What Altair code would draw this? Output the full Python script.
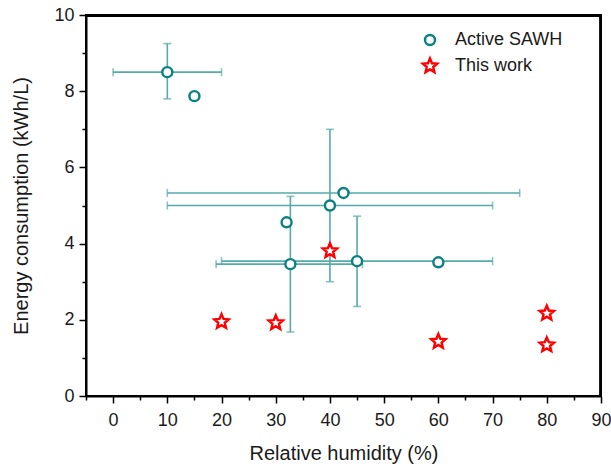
import altair as alt
import pandas as pd

# Active SAWH systems: relative humidity (%) vs energy consumption (kWh/L)
sawh_rh = [10, 15, 42.5, 40, 32, 32.7, 45, 60]
sawh_energy = [8.5, 7.87, 5.33, 5.0, 4.56, 3.46, 3.54, 3.51]
sawh_rh_lo = [0, None, 10, 10, None, 19, 20, None]
sawh_rh_hi = [20, None, 75, 70, None, 46, 70, None]
sawh_energy_lo = [7.8, None, None, 3.0, None, 1.68, 2.35, None]
sawh_energy_hi = [9.25, None, None, 7.0, None, 5.24, 4.72, None]

# This work
work_rh = [20, 30, 40, 60, 80, 80]
work_energy = [1.95, 1.92, 3.81, 1.43, 2.17, 1.34]

series_names = ["Active SAWH", "This work"]
series_colors = ["#0a8080", "#ff0000"]
bar_color = "#55aaaa"

# axis ranges and tick positions
x_range = [-5, 90]
y_range = [0, 10]
x_major = list(range(0, 91, 10))
x_minor = list(range(-5, 90, 10))
y_major = list(range(0, 11, 2))
y_minor = list(range(1, 10, 2))

STAR = ("M0,-1 L0.265,-0.364 L0.951,-0.309 L0.428,0.139 L0.588,0.809 "
        "L0,0.45 L-0.588,0.809 L-0.428,0.139 L-0.951,-0.309 L-0.265,-0.364 Z")

sawh = pd.DataFrame({
    "rh": sawh_rh, "energy": sawh_energy,
    "rh_lo": sawh_rh_lo, "rh_hi": sawh_rh_hi,
    "e_lo": sawh_energy_lo, "e_hi": sawh_energy_hi,
})
points = pd.concat([
    pd.DataFrame({"rh": sawh_rh, "energy": sawh_energy, "series": series_names[0]}),
    pd.DataFrame({"rh": work_rh, "energy": work_energy, "series": series_names[1]}),
], ignore_index=True)

W, H = 515, 381
x_scale = alt.Scale(domain=x_range, nice=False, zero=False)
y_scale = alt.Scale(domain=y_range, nice=False, zero=False)

font = "Liberation Sans"
ink = "#1a1a1a"

common = dict(
    labelFont=font, titleFont=font, titleFontWeight="normal",
    labelColor=ink, titleColor=ink,
    domainColor="black", domainWidth=2, tickColor="black", tickWidth=1.5,
    grid=False, labelFlush=False, labelOverlap=False,
)
x_axis = alt.Axis(
    title="Relative humidity (%)", orient="bottom", values=x_major, tickSize=7,
    labelFontSize=18, titleFontSize=20, labelPadding=8, titlePadding=14, **common,
)
y_axis = alt.Axis(
    title="Energy consumption (kWh/L)", orient="left", values=y_major, tickSize=7,
    labelFontSize=18, titleFontSize=20, labelPadding=5, titlePadding=22, **common,
)

base = alt.Chart(sawh)

# top and right border drawn as thin filled bands along the plot edges
border = pd.DataFrame({
    "x0": [x_range[0], x_range[1] - 0.35],
    "x1": [x_range[1], x_range[1]],
    "y0": [y_range[1] - 0.05, y_range[0]],
    "y1": [y_range[1], y_range[1]],
})
frame = alt.Chart(border).mark_rect(color="black", opacity=1).encode(
    x=alt.X("x0:Q", scale=x_scale, axis=x_axis), x2="x1:Q",
    y=alt.Y("y0:Q", scale=y_scale, axis=y_axis), y2="y1:Q",
)

# horizontal error bars with end caps
h_bars = base.transform_filter("isValid(datum.rh_lo)").mark_rule(
    color=bar_color, strokeWidth=1.6
).encode(
    x=alt.X("rh_lo:Q", scale=x_scale, axis=x_axis),
    x2="rh_hi:Q",
    y=alt.Y("energy:Q", scale=y_scale, axis=y_axis),
)
h_caps = base.transform_filter("isValid(datum.rh_lo)").transform_fold(
    ["rh_lo", "rh_hi"], as_=["end", "value"]
).mark_tick(orient="vertical", color=bar_color, size=8, thickness=1.6).encode(
    x=alt.X("value:Q", scale=x_scale, axis=x_axis),
    y=alt.Y("energy:Q", scale=y_scale, axis=y_axis),
)

# vertical error bars with end caps
v_bars = base.transform_filter("isValid(datum.e_lo)").mark_rule(
    color=bar_color, strokeWidth=1.6
).encode(
    x=alt.X("rh:Q", scale=x_scale, axis=x_axis),
    y=alt.Y("e_lo:Q", scale=y_scale, axis=y_axis),
    y2="e_hi:Q",
)
v_caps = base.transform_filter("isValid(datum.e_lo)").transform_fold(
    ["e_lo", "e_hi"], as_=["end", "value"]
).mark_tick(orient="horizontal", color=bar_color, size=8, thickness=1.6).encode(
    x=alt.X("rh:Q", scale=x_scale, axis=x_axis),
    y=alt.Y("value:Q", scale=y_scale, axis=y_axis),
)

legend = alt.Legend(
    title=None, orient="none", legendX=335, legendY=16,
    labelFontSize=18, labelFont=font, labelColor=ink,
    symbolStrokeWidth=2.4, symbolFillColor="white", rowPadding=3,
    labelOffset=16, padding=0,
)

marks = alt.Chart(points).mark_point(
    filled=False, fill="white", fillOpacity=1, strokeWidth=2.4, opacity=1
).encode(
    x=alt.X("rh:Q", scale=x_scale, axis=x_axis),
    y=alt.Y("energy:Q", scale=y_scale, axis=y_axis),
    color=alt.Color("series:N", scale=alt.Scale(domain=series_names, range=series_colors), legend=legend),
    shape=alt.Shape("series:N", scale=alt.Scale(domain=series_names, range=["circle", STAR]), legend=legend),
    size=alt.Size("series:N", scale=alt.Scale(domain=series_names, range=[100, 230]), legend=legend),
)

main = alt.layer(h_bars, h_caps, v_bars, v_caps, marks, frame)

# minor ticks as extra tick-only axes
minor_x_axis = alt.Axis(orient="bottom", values=x_minor, labels=False, domain=False,
                        tickSize=4, tickColor="black", tickWidth=1.5, grid=False, title=None)
minor_y_axis = alt.Axis(orient="left", values=y_minor, labels=False, domain=False,
                        tickSize=4, tickColor="black", tickWidth=1.5, grid=False, title=None)

xm = pd.DataFrame({"v": x_minor})
ym = pd.DataFrame({"v": y_minor})
minor_x = alt.Chart(xm).mark_point(opacity=0).encode(x=alt.X("v:Q", scale=x_scale, axis=minor_x_axis))
minor_y = alt.Chart(ym).mark_point(opacity=0).encode(y=alt.Y("v:Q", scale=y_scale, axis=minor_y_axis))

chart = alt.layer(main, minor_x, minor_y).resolve_axis(
    x="independent", y="independent"
).properties(
    width=W, height=H,
    autosize=alt.AutoSizeParams(type="none"),
    padding={"left": 86, "top": 15, "right": 10, "bottom": 72},
).configure(background="white").configure_view(stroke="black", strokeWidth=2)

chart.save("out.html", embed_options={"renderer": "svg", "actions": False})
